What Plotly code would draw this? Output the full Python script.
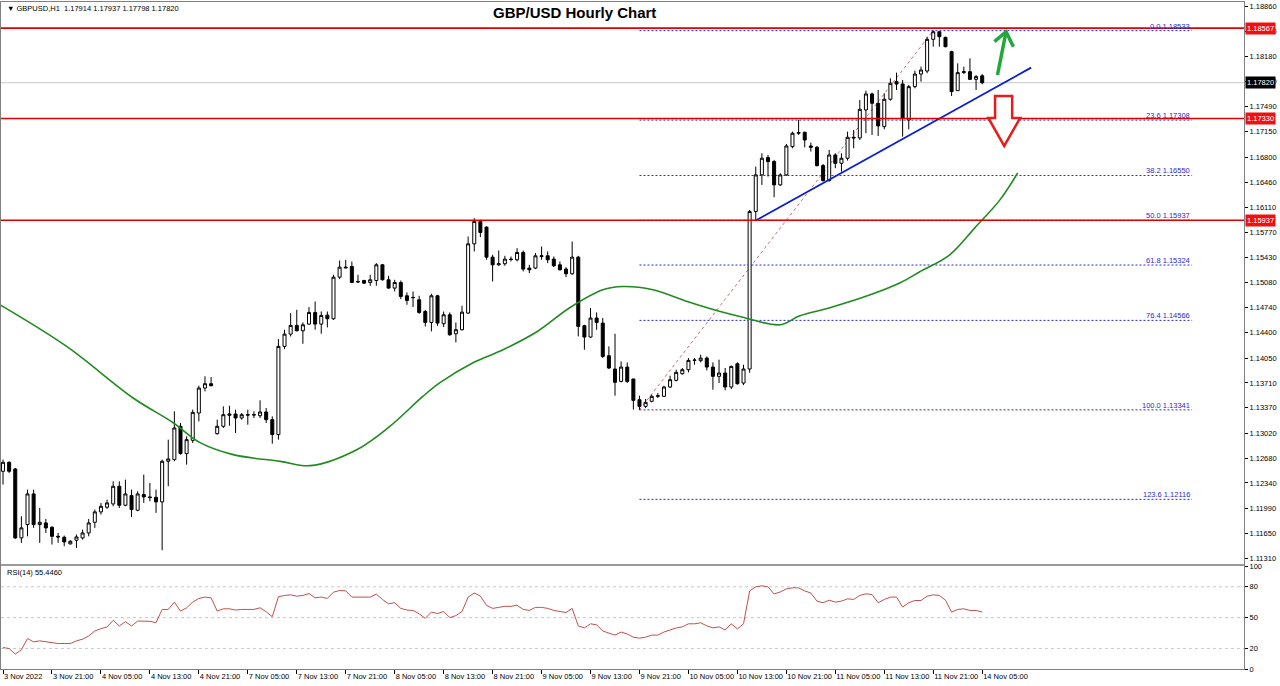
import plotly.graph_objects as go

# ---------------- data ----------------
bar_index = list(range(161))

opens = [1.12500,1.12623,1.12532,1.11588,1.11770,1.12190,1.11770,1.11793,1.11734,1.11610,
         1.11597,1.11506,1.11556,1.11588,1.11656,1.11802,1.11944,1.12008,1.12053,1.12295,
         1.12035,1.12167,1.11967,1.12181,1.12149,1.12144,1.12081,1.12637,1.12660,1.13116,
         1.12742,1.12924,1.13298,1.13640,1.13699,1.13015,1.13116,1.13266,1.13284,1.13230,
         1.13275,1.13270,1.13261,1.13312,1.13207,1.13002,1.14210,1.14378,1.14497,1.14424,
         1.14515,1.14675,1.14515,1.14638,1.14588,1.15158,1.15295,1.15304,1.15099,1.15112,
         1.15085,1.15112,1.15327,1.15122,1.15008,1.15085,1.14903,1.14876,1.14848,1.14688,
         1.14538,1.14903,1.14520,1.14643,1.14383,1.14438,1.14666,1.15614,1.15920,1.15843,
         1.15432,1.15327,1.15341,1.15405,1.15396,1.15496,1.15282,1.15282,1.15440,1.15450,
         1.15405,1.15327,1.15268,1.15204,1.15432,1.14493,1.14338,1.14598,1.14529,1.14082,
         1.13900,1.13731,1.13927,1.13763,1.13480,1.13389,1.13458,1.13526,1.13526,1.13654,
         1.13745,1.13836,1.13891,1.14018,1.14014,1.14050,1.13927,1.13800,1.13845,1.13654,
         1.13972,1.13708,1.13900,1.16056,1.16558,1.16795,1.16740,1.16421,1.16558,1.16945,
         1.17128,1.17141,1.16954,1.16936,1.16685,1.16480,1.16831,1.16717,1.16786,1.17073,
         1.17064,1.17447,1.17666,1.17538,1.17219,1.17593,1.17834,1.17802,1.17310,1.17766,
         1.17939,1.17980,1.18414,1.18518,1.18441,1.18245,1.17711,1.17958,1.17971,1.17866,
         1.17914]
highs = [1.12660,1.12637,1.12546,1.11884,1.12249,1.12249,1.11998,1.11848,1.11748,1.11656,
         1.11620,1.11556,1.11634,1.11702,1.11848,1.11976,1.12067,1.12112,1.12363,1.12363,
         1.12386,1.12249,1.12226,1.12454,1.12340,1.12249,1.12660,1.12933,1.13321,1.13161,
         1.12979,1.13344,1.13672,1.13800,1.13790,1.13207,1.13389,1.13398,1.13344,1.13298,
         1.13344,1.13321,1.13471,1.13366,1.13252,1.14310,1.14438,1.14666,1.14711,1.14538,
         1.14748,1.14825,1.14688,1.14688,1.15190,1.15386,1.15395,1.15372,1.15190,1.15122,
         1.15190,1.15350,1.15336,1.15176,1.15122,1.15112,1.14948,1.14962,1.14903,1.14711,
         1.14930,1.14916,1.14688,1.14675,1.14538,1.14766,1.15714,1.15965,1.15943,1.15852,
         1.15464,1.15523,1.15450,1.15441,1.15555,1.15523,1.15327,1.15487,1.15578,1.15510,
         1.15441,1.15373,1.15295,1.15646,1.15450,1.14506,1.14734,1.14675,1.14598,1.14210,
         1.14383,1.14005,1.13991,1.13770,1.13535,1.13490,1.13549,1.13572,1.13672,1.13809,
         1.13891,1.13914,1.14050,1.14050,1.14096,1.14073,1.13991,1.14028,1.13914,1.13946,
         1.13991,1.13959,1.16079,1.16672,1.16854,1.16831,1.16763,1.16580,1.16982,1.17150,
         1.17310,1.17150,1.17000,1.16954,1.16708,1.16900,1.16854,1.16854,1.17150,1.17173,
         1.17584,1.17711,1.17684,1.17720,1.17675,1.17880,1.17958,1.17857,1.17789,1.17985,
         1.18040,1.18450,1.18533,1.18525,1.18450,1.18258,1.18085,1.18040,1.18154,1.17925,
         1.17937]
lows = [1.12318,1.12477,1.11574,1.11520,1.11610,1.11725,1.11520,1.11656,1.11497,1.11520,
        1.11474,1.11497,1.11451,1.11565,1.11610,1.11725,1.11907,1.11985,1.12021,1.11998,
        1.12021,1.11875,1.11953,1.12067,1.12090,1.11930,1.11419,1.12295,1.12637,1.12728,
        1.12591,1.12888,1.13184,1.13594,1.13663,1.13002,1.13093,1.13125,1.13024,1.13207,
        1.13138,1.13230,1.13230,1.13161,1.12878,1.12933,1.14173,1.14346,1.14415,1.14246,
        1.14506,1.14438,1.14383,1.14470,1.14574,1.15131,1.15281,1.15076,1.15076,1.15067,
        1.15040,1.15040,1.15112,1.15000,1.14962,1.14857,1.14780,1.14748,1.14656,1.14483,
        1.14415,1.14492,1.14474,1.14356,1.14264,1.14429,1.14656,1.15509,1.15706,1.15396,
        1.15099,1.15314,1.15314,1.15373,1.15373,1.15236,1.15213,1.15268,1.15396,1.15350,
        1.15295,1.15250,1.15158,1.15190,1.14347,1.14164,1.14324,1.14438,1.14050,1.13900,
        1.13535,1.13718,1.13708,1.13344,1.13341,1.13366,1.13444,1.13503,1.13517,1.13640,
        1.13731,1.13822,1.13854,1.13959,1.13991,1.13882,1.13617,1.13708,1.13608,1.13626,
        1.13686,1.13680,1.13850,1.15942,1.16421,1.16535,1.16252,1.16407,1.16544,1.16922,
        1.17105,1.16936,1.16877,1.16672,1.16466,1.16466,1.16649,1.16603,1.16754,1.16922,
        1.17036,1.17128,1.17105,1.17091,1.17182,1.17575,1.17720,1.17082,1.17182,1.17743,
        1.17834,1.17949,1.18313,1.18313,1.18304,1.17638,1.17711,1.17939,1.17857,1.17720,
        1.17798]
closes = [1.12623,1.12500,1.11588,1.11725,1.12190,1.11770,1.11802,1.11725,1.11610,1.11601,
          1.11533,1.11542,1.11601,1.11656,1.11793,1.11944,1.12021,1.12067,1.12295,1.12035,
          1.12190,1.11976,1.12190,1.12149,1.12140,1.12081,1.12637,1.12669,1.13093,1.12742,
          1.12933,1.13307,1.13640,1.13699,1.13672,1.13116,1.13275,1.13284,1.13230,1.13275,
          1.13270,1.13275,1.13312,1.13207,1.13002,1.14210,1.14378,1.14497,1.14424,1.14506,
          1.14675,1.14515,1.14634,1.14588,1.15158,1.15295,1.15286,1.15085,1.15094,1.15076,
          1.15122,1.15327,1.15122,1.15008,1.15085,1.14894,1.14839,1.14880,1.14675,1.14538,
          1.14903,1.14529,1.14643,1.14369,1.14438,1.14679,1.15614,1.15920,1.15770,1.15432,
          1.15327,1.15341,1.15405,1.15400,1.15496,1.15268,1.15259,1.15450,1.15450,1.15396,
          1.15314,1.15259,1.15204,1.15432,1.14484,1.14338,1.14598,1.14538,1.14073,1.13914,
          1.13718,1.13927,1.13731,1.13471,1.13389,1.13444,1.13526,1.13535,1.13654,1.13754,
          1.13854,1.13891,1.14018,1.14023,1.14050,1.13927,1.13800,1.13845,1.13654,1.13936,
          1.13699,1.13900,1.16056,1.16558,1.16786,1.16740,1.16421,1.16558,1.16954,1.17128,
          1.17137,1.17036,1.16936,1.16685,1.16480,1.16831,1.16717,1.16786,1.17073,1.17064,
          1.17456,1.17666,1.17538,1.17228,1.17593,1.17812,1.17802,1.17333,1.17766,1.17939,
          1.17994,1.18414,1.18518,1.18450,1.18313,1.17698,1.17958,1.17971,1.17866,1.17903,
          1.17820]

rsi_values = [20.9,19.9,14.5,18.7,29.6,26.4,27.4,26.4,25.7,24.8,
              24.8,24.8,27.4,29.0,32.2,37.0,39.3,40.9,47.4,41.9,
              46.1,41.9,46.7,46.7,46.4,45.1,58.0,58.0,65.1,56.4,
              59.6,65.1,68.7,70.0,69.3,56.4,58.6,58.6,57.4,58.0,
              58.0,58.0,59.6,55.8,50.9,70.3,71.6,72.2,70.9,71.6,
              73.5,69.3,70.0,68.7,74.8,76.4,76.1,70.0,70.0,70.0,
              70.0,72.9,67.7,63.5,64.5,59.0,57.4,57.0,53.8,49.3,
              55.4,54.0,56.0,50.0,52.0,56.0,70.0,74.0,71.0,62.0,
              59.0,60.0,61.0,61.0,62.0,58.0,57.0,60.0,60.0,59.0,
              57.0,56.0,55.0,59.0,42.0,40.0,44.0,43.0,37.0,35.0,
              33.0,36.0,34.0,31.0,30.0,31.0,33.0,33.0,36.0,38.0,
              40.0,41.0,44.0,44.0,45.0,42.0,40.0,41.0,38.0,44.0,
              39.0,44.0,76.0,80.0,81.0,80.0,73.0,75.0,78.0,79.0,
              79.0,76.0,74.0,66.0,64.5,67.0,65.1,66.1,68.3,67.7,
              71.6,73.2,72.5,64.5,67.7,70.0,70.0,60.3,64.5,66.7,
              66.7,70.9,72.2,71.6,67.0,55.4,58.0,58.6,57.0,57.0,
              55.4]

# moving average (displaced), read as points along the green curve
ma_bar = [-0.5,10.4,21.2,27.8,32.2,37.6,45.3,50.2,57.8,63.2,68.6,71.4,76.8,81.7,87.3,
          92.6,98.0,101.3,106.2,111.8,117.2,120.4,127.0,130.2,135.1,141.7,146.6,149.8,
          154.7,158.8,162.9,165.8]
ma_price = [1.14780,1.14209,1.13507,1.13165,1.12892,1.12728,1.12636,1.12577,1.12796,1.13115,
            1.13525,1.13713,1.13986,1.14164,1.14414,1.14739,1.14985,1.15030,1.14985,1.14825,
            1.14688,1.14620,1.14506,1.14629,1.14739,1.14916,1.15081,1.15231,1.15464,1.15833,
            1.16216,1.16585]

fib_ratios = ["0.0", "23.6", "38.2", "50.0", "61.8", "76.4", "100.0", "123.6"]
fib_prices = [1.18533, 1.17308, 1.16550, 1.15937, 1.15324, 1.14566, 1.13341, 1.12116]
fib_start_bar = 104
fib_end_bar = 194.3

resistance_levels = [1.18567, 1.17330, 1.15937]
current_price = 1.17820

trend_bars = [122.9, 168.0]
trend_prices = [1.15929, 1.18026]

price_ticks = [1.18860,1.18520,1.18180,1.17840,1.17490,1.17150,1.16800,1.16460,1.16110,
               1.15770,1.15430,1.15080,1.14740,1.14400,1.14050,1.13710,1.13370,1.13020,
               1.12680,1.12340,1.11990,1.11650,1.11310]
time_tick_bars = list(range(0, 161, 8))
time_tick_labels = ["3 Nov 2022","3 Nov 21:00","4 Nov 05:00","4 Nov 13:00","4 Nov 21:00",
                    "7 Nov 05:00","7 Nov 13:00","7 Nov 21:00","8 Nov 05:00","8 Nov 13:00",
                    "8 Nov 21:00","9 Nov 05:00","9 Nov 13:00","9 Nov 21:00","10 Nov 05:00",
                    "10 Nov 13:00","10 Nov 21:00","11 Nov 05:00","11 Nov 13:00","11 Nov 21:00",
                    "14 Nov 05:00"]
rsi_ticks = [0, 20, 50, 80, 100]
rsi_levels = [20, 50, 80]

# ---------------- figure ----------------
FONT = "Liberation Sans"
AX = "#808080"
X_RANGE = [-0.33, 202.78]
Y_RANGE = [1.11236, 1.18925]

fig = go.Figure()

fig.add_trace(go.Candlestick(
    x=bar_index, open=opens, high=highs, low=lows, close=closes,
    increasing=dict(line=dict(color="black", width=1), fillcolor="white"),
    decreasing=dict(line=dict(color="black", width=1), fillcolor="black"),
    whiskerwidth=0, xaxis="x2", yaxis="y", showlegend=False, hoverinfo="skip"))

fig.add_trace(go.Scatter(
    x=ma_bar, y=ma_price, mode="lines", line=dict(color="#1f8a1f", width=1.6, shape="spline"),
    xaxis="x2", yaxis="y", showlegend=False, hoverinfo="skip"))

fig.add_trace(go.Scatter(
    x=trend_bars, y=trend_prices, mode="lines", line=dict(color="#0a1fd0", width=1.8),
    xaxis="x2", yaxis="y", showlegend=False, hoverinfo="skip"))

fig.add_trace(go.Scatter(
    x=bar_index, y=rsi_values, mode="lines", line=dict(color="#c0504d", width=1),
    xaxis="x", yaxis="y2", showlegend=False, hoverinfo="skip"))

shapes = []
shapes.append(dict(type="line", xref="x2 domain", yref="y", x0=0, x1=1, y0=current_price, y1=current_price,
                   line=dict(color="#c8c8c8", width=1), layer="below"))
for p in fib_prices:
    shapes.append(dict(type="line", xref="x2", yref="y", x0=fib_start_bar, x1=fib_end_bar, y0=p, y1=p,
                       line=dict(color="#2a2ad0", width=1, dash="2px,2px"), layer="below"))
shapes.append(dict(type="line", xref="x2", yref="y", x0=fib_start_bar, x1=152, y0=fib_prices[6], y1=fib_prices[0],
                   line=dict(color="#c07070", width=1, dash="3px,3px"), layer="below"))
for p in resistance_levels:
    shapes.append(dict(type="line", xref="x2 domain", yref="y", x0=0, x1=1, y0=p, y1=p,
                       line=dict(color="#e00000", width=1.6)))
for lv in rsi_levels:
    shapes.append(dict(type="line", xref="x domain", yref="y2", x0=0, x1=1, y0=lv, y1=lv,
                       line=dict(color="#c8c8c8", width=1, dash="3px,3px"), layer="below"))
# separator between the price panel and the RSI panel
shapes.append(dict(type="line", xref="paper", yref="paper", x0=0, x1=1, y0=0.156, y1=0.156,
                   line=dict(color="#9a9a9a", width=2)))
shapes.append(dict(type="path", xref="x2", yref="y",
                   path="M 162.5 1.17926 L 163.9 1.18518",
                   line=dict(color="#22a83a", width=3.5)))
shapes.append(dict(type="path", xref="x2", yref="y",
                   path="M 162.0 1.18382 L 163.9 1.18518 L 165.1 1.18313",
                   line=dict(color="#22a83a", width=3.5)))
shapes.append(dict(type="path", xref="x2", yref="y",
                   path="M 162.1 1.17639 L 164.9 1.17639 L 164.9 1.17338 L 166.2 1.17338 "
                        "L 163.6 1.16955 L 161.0 1.17338 L 162.1 1.17338 Z",
                   line=dict(color="#e81c1c", width=2.5), fillcolor="white"))

annotations = []
annotations.append(dict(text="<b>GBP/USD Hourly Chart</b>", xref="paper", yref="paper", x=0.461, y=0.985,
                        xanchor="center", yanchor="middle", showarrow=False,
                        font=dict(family=FONT, size=15, color="black")))
annotations.append(dict(text="▼ GBPUSD,H1  1.17914 1.17937 1.17798 1.17820", xref="paper", yref="paper",
                        x=0.003, y=0.9905, xanchor="left", yanchor="middle", showarrow=False,
                        font=dict(family=FONT, size=7.5, color="black")))
annotations.append(dict(text="RSI(14) 55.4460", xref="paper", yref="paper", x=0.003, y=0.144,
                        xanchor="left", yanchor="middle", showarrow=False,
                        font=dict(family=FONT, size=7.5, color="black")))
for r, p in zip(fib_ratios, fib_prices):
    annotations.append(dict(text=f"{r} {p:.5f}", xref="x2", yref="y", x=fib_end_bar, y=p,
                            xanchor="right", yanchor="bottom", showarrow=False, yshift=-2,
                            font=dict(family=FONT, size=7.5, color="#2a2ad0")))
for p in resistance_levels:
    annotations.append(dict(text=f"{p:.5f}", xref="paper", yref="y", x=1, y=p, xanchor="left",
                            yanchor="middle", showarrow=False, xshift=1, bgcolor="#f01010", borderpad=1,
                            font=dict(family=FONT, size=7.5, color="white")))
annotations.append(dict(text=f"{current_price:.5f}", xref="paper", yref="y", x=1, y=current_price,
                        xanchor="left", yanchor="middle", showarrow=False, xshift=1, bgcolor="black",
                        borderpad=1, font=dict(family=FONT, size=7.5, color="white")))

fig.update_layout(
    width=1280, height=686,
    margin=dict(l=1, r=36, t=2, b=17, autoexpand=False),
    paper_bgcolor="white", plot_bgcolor="white",
    showlegend=False,
    font=dict(family=FONT, size=7.5, color="black"),
    xaxis=dict(domain=[0, 1], anchor="y2", range=X_RANGE, tickmode="array", tickvals=time_tick_bars,
               ticktext=time_tick_labels, ticks="outside", ticklen=4, tickcolor="black",
               ticklabelposition="outside right", tickangle=0, automargin=False,
               showgrid=False, zeroline=False,
               showline=True, linecolor=AX, mirror=True, tickfont=dict(size=7.5),
               rangeslider=dict(visible=False)),
    xaxis2=dict(domain=[0, 1], anchor="y", matches="x", range=X_RANGE, showticklabels=False,
                ticks="", showgrid=False, zeroline=False, showline=True, linecolor=AX, mirror=True,
                automargin=False, rangeslider=dict(visible=False)),
    yaxis=dict(domain=[0.158, 1], anchor="x2", side="right", range=Y_RANGE, tickmode="array",
               tickvals=price_ticks, ticktext=[f"{v:.5f}" for v in price_ticks], ticks="outside",
               ticklen=3, tickcolor="black", showgrid=False, zeroline=False, showline=True,
               linecolor=AX, mirror=True, tickfont=dict(size=7.5), automargin=False),
    yaxis2=dict(domain=[0, 0.154], anchor="x", side="right", range=[0, 100], tickmode="array",
                tickvals=rsi_ticks, ticktext=[str(v) for v in rsi_ticks], ticks="outside",
                ticklen=3, tickcolor="black", showgrid=False, zeroline=False, showline=True,
                linecolor=AX, mirror=True, tickfont=dict(size=7.5), automargin=False),
    shapes=shapes,
    annotations=annotations,
)

fig.write_html("out.html", config={"displayModeBar": False},
               post_script="document.body.style.margin='0';document.body.style.overflow='hidden';")
